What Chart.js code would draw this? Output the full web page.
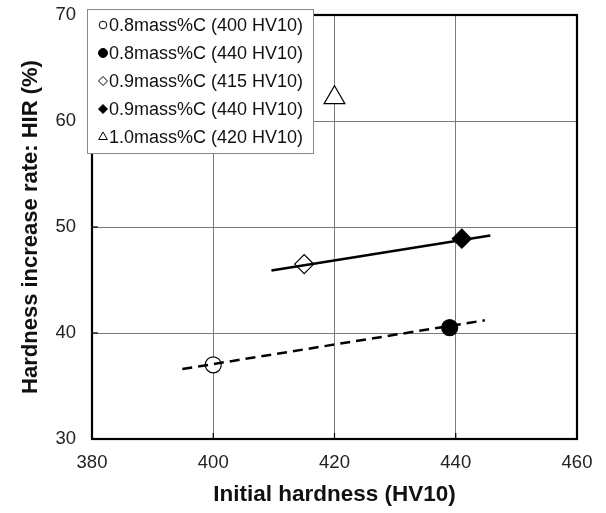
<!DOCTYPE html>
<html><head><meta charset="utf-8">
<script src="https://cdn.jsdelivr.net/npm/chart.js@4/dist/chart.umd.min.js"></script>
<style>html,body{margin:0;padding:0;background:#fff}#wrap{width:606px;height:513px}</style>
</head><body><div id="wrap"><canvas id="c" width="606" height="513"></canvas></div>
<script>
const seriesLabels = ['0.8mass%C (400 HV10)','0.8mass%C (440 HV10)','0.9mass%C (415 HV10)','0.9mass%C (440 HV10)','1.0mass%C (420 HV10)'];
const pointX = [400, 439, 415, 441, 420];
const pointY = [37, 40.5, 46.5, 48.9, 62.2];
const solidLineX = [409.6, 445.7];
const solidLineY = [45.9, 49.2];
const dashedLineX = [394.9, 444.8];
const dashedLineY = [36.6, 41.2];
const xTicks = [380, 400, 420, 440, 460];
const yTicks = [30, 40, 50, 60, 70];

const FONT = '"Liberation Sans", Arial, sans-serif';
const styles = [
  {pointStyle:'circle', bg:'#fff', r:8, lr:3.8},
  {pointStyle:'circle', bg:'#000', r:8, lr:4.5},
  {pointStyle:'rectRot', bg:'#fff', r:9.5, lr:4.5},
  {pointStyle:'rectRot', bg:'#000', r:9.5, lr:4.5},
  {pointStyle:'triangle', bg:'#fff', r:12, lr:5}
];
const datasets = [];
datasets.push({type:'line', label:'solid', data: solidLineX.map((x,i)=>({x, y: solidLineY[i]})), borderColor:'#000', borderWidth:2.5, pointRadius:0, fill:false});
datasets.push({type:'line', label:'dashed', data: dashedLineX.map((x,i)=>({x, y: dashedLineY[i]})), borderColor:'#000', borderWidth:2.5, borderDash:[10,6], pointRadius:0, fill:false});
seriesLabels.forEach((lab,i)=>{
  datasets.push({type:'scatter', label:lab, data:[{x:pointX[i], y:pointY[i]}], pointStyle:styles[i].pointStyle, pointRadius:styles[i].r, pointBackgroundColor:styles[i].bg, pointBorderColor:'#000', pointBorderWidth:1.2});
});

const framePlugin = {
  id:'frame',
  afterDatasetsDraw(chart){
    const {ctx, chartArea:a, scales} = chart;
    ctx.save();
    ctx.strokeStyle='#000'; ctx.lineWidth=1.2;
    xTicks.forEach(v=>{const px=scales.x.getPixelForValue(v); ctx.beginPath(); ctx.moveTo(px,a.bottom); ctx.lineTo(px,a.bottom-6); ctx.stroke();});
    yTicks.forEach(v=>{const py=scales.y.getPixelForValue(v); ctx.beginPath(); ctx.moveTo(a.left,py); ctx.lineTo(a.left+6,py); ctx.stroke();});
    ctx.lineWidth=2.2; ctx.strokeStyle='#000';
    ctx.strokeRect(a.left, a.top, a.right-a.left, a.bottom-a.top);
    // legend
    const lx=87, ly=9, lw=226, lh=144;
    ctx.fillStyle='#fff'; ctx.fillRect(lx,ly,lw,lh);
    ctx.lineWidth=1; ctx.strokeStyle='#888'; ctx.strokeRect(lx+0.5,ly+0.5,lw,lh);
    ctx.font='18px ' + FONT;
    ctx.textBaseline='middle'; ctx.textAlign='left';
    seriesLabels.forEach((lab,i)=>{
      const y = ly+16+i*28;
      const st = styles[i];
      ctx.fillStyle=st.bg; ctx.strokeStyle='#000'; ctx.lineWidth=1;
      Chart.helpers.drawPoint(ctx, {pointStyle:st.pointStyle, radius: st.lr, borderWidth:1, rotation:0}, 103, y);
      ctx.fillStyle='#111';
      ctx.fillText(lab, 109, y+1);
    });
    ctx.restore();
  }
};

new Chart(document.getElementById('c'), {
  data:{datasets},
  options:{
    responsive:false, animation:false, devicePixelRatio:1,
    layout:{padding:{top:15, right:29, left:0, bottom:0}},
    plugins:{legend:{display:false}, tooltip:{enabled:false}},
    scales:{
      x:{type:'linear', min:380, max:460,
        afterFit(s){ s.height = 74; s.paddingLeft = 0; s.paddingRight = 0; },
        ticks:{stepSize:20, color:'#222', font:{size:18.5, family:FONT}, padding:13},
        grid:{color:'#7a7a7a', lineWidth:1, drawTicks:false},
        border:{display:false},
        title:{display:true, text:'Initial hardness (HV10)', color:'#111', font:{size:22.5, weight:'bold', family:FONT}, padding:{top:0, bottom:5}}},
      y:{type:'linear', min:30, max:70,
        afterFit(s){ s.width = 92; s.paddingTop = 0; s.paddingBottom = 0; },
        ticks:{stepSize:10, color:'#222', font:{size:18.5, family:FONT}, padding:16},
        grid:{color:'#7a7a7a', lineWidth:1, drawTicks:false},
        border:{display:false},
        title:{display:true, text:'Hardness increase rate: HIR (%)', color:'#111', font:{size:22, weight:'bold', family:FONT}, padding:{top:18, bottom:0}}}
    }
  },
  plugins:[framePlugin]
});
</script></body></html>
